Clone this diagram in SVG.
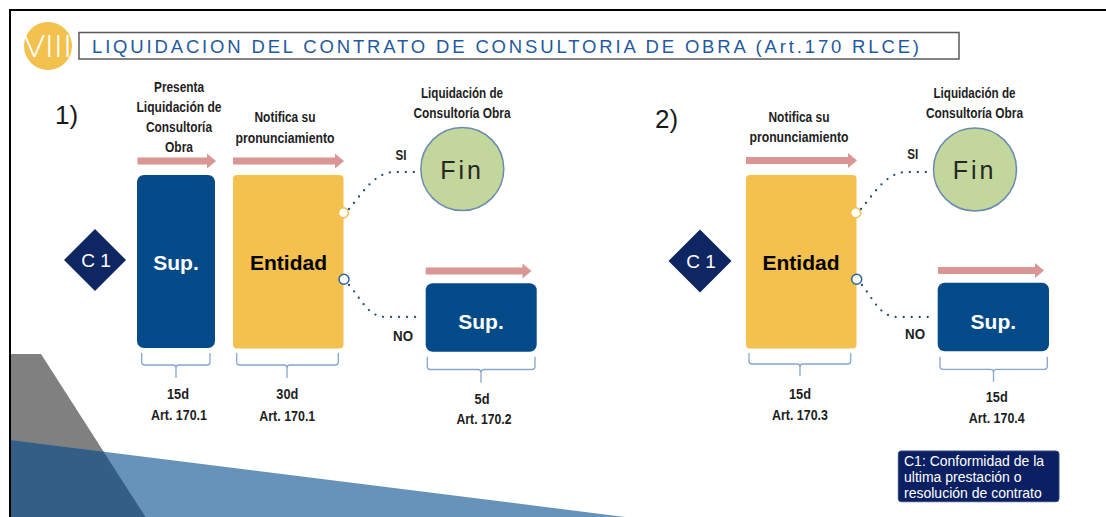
<svg xmlns="http://www.w3.org/2000/svg" width="1106" height="517" viewBox="0 0 1106 517">
<style>
.lbl{font-family:"Liberation Sans",Arial,sans-serif;font-weight:bold;font-size:14px;fill:#1e1e1e;text-anchor:middle}
.big{font-family:"Liberation Sans",Arial,sans-serif;font-weight:bold;font-size:21px;text-anchor:middle}
.sup{fill:#034A89}
.ent{fill:#F4C04E}
.dia{fill:#0E2762}
.fin{fill:#C3D69B;stroke:#6A8CAF;stroke-width:1.5}
.arrow{fill:#DA9694}
.dots{fill:none;stroke:#1F4E79;stroke-width:2.3;stroke-linecap:round;stroke-dasharray:0 8}
.brace{fill:none;stroke:#86A6D0;stroke-width:1.3}
.num{font-family:"Liberation Sans",Arial,sans-serif;font-size:26px;fill:#1a1a1a}
.finTxt{font-family:"Liberation Sans",Arial,sans-serif;font-size:25px;fill:#262626;letter-spacing:3px;text-anchor:middle}
.c1{font-family:"Liberation Sans",Arial,sans-serif;font-size:19px;fill:#ffffff;text-anchor:middle}
.leg{font-family:"Liberation Sans",Arial,sans-serif;font-size:14px;fill:#ffffff}
</style>

<g id="background">
  <rect x="0" y="0" width="1106" height="517" fill="#ffffff"/>
  <polygon points="10,354 41,354 145.5,517 10,517" fill="#808080"/>
  <polygon points="10,440 625,517 10,517" fill="#6793BB"/>
  <polygon points="10,440 103.6,451.7 145.5,517 10,517" fill="#345E85"/>
  <path d="M10,517 L10,10 L1106,10" fill="none" stroke="#000000" stroke-width="2"/>
</g>

<g id="title">
  <circle cx="48" cy="46" r="24" fill="#F2C14E"/>
  <text x="48" y="57" font-family="'Open Sans','Liberation Sans',sans-serif" font-weight="300" font-size="31" fill="#ffffff" text-anchor="middle" textLength="48" lengthAdjust="spacingAndGlyphs">VIII</text>
  <rect x="79" y="32.5" width="880" height="26.5" fill="#ffffff" stroke="#5a5a5a" stroke-width="1.5"/>
  <text x="92" y="53" font-family="'Liberation Sans',Arial,sans-serif" font-size="18.5" fill="#1F5A9E" textLength="827" lengthAdjust="spacing">LIQUIDACION DEL CONTRATO DE CONSULTORIA DE OBRA (Art.170 RLCE)</text>
</g>

<g id="flow-arrows">
  <path class="arrow" d="M137.5,157.5 H207 V153.5 L216,161 L207,168.5 V164.5 H137.5 Z"/>
  <path class="arrow" d="M233,157.5 H335 V153.5 L344,161 L335,168.5 V164.5 H233 Z"/>
  <path class="arrow" d="M425.7,267.5 H522.5 V263.5 L531.5,271 L522.5,278.5 V274.5 H425.7 Z"/>
  <path class="arrow" d="M746,157 H848 V153 L857,160.5 L848,168 V164 H746 Z"/>
  <path class="arrow" d="M938,267 H1035 V263 L1044,270.5 L1035,278 V274 H938 Z"/>
</g>

<g id="connectors">
  <path class="dots" d="M349,209 C362,194 374,172 395,172 L420,172"/>
  <path class="dots" d="M349,285 C362,300 368,317 386,317 L420,317"/>
  <path class="dots" d="M861,209 C874,194 886,172 907,172 L932,172"/>
  <path class="dots" d="M862,285 C874,300 880,317 898,317 L932,317"/>
</g>

<g id="section1-labels">
  <text class="num" x="55" y="124">1)</text>
  <text class="lbl" x="179" y="91.5" textLength="50" lengthAdjust="spacingAndGlyphs">Presenta</text>
  <text class="lbl" x="179" y="111.5" textLength="85" lengthAdjust="spacingAndGlyphs">Liquidación de</text>
  <text class="lbl" x="179" y="132" textLength="66" lengthAdjust="spacingAndGlyphs">Consultoría</text>
  <text class="lbl" x="179" y="152" textLength="28" lengthAdjust="spacingAndGlyphs">Obra</text>
  <text class="lbl" x="285" y="122" textLength="61" lengthAdjust="spacingAndGlyphs">Notifica su</text>
  <text class="lbl" x="285" y="142.5" textLength="99" lengthAdjust="spacingAndGlyphs">pronunciamiento</text>
  <text class="lbl" x="462" y="98" textLength="82" lengthAdjust="spacingAndGlyphs">Liquidación de</text>
  <text class="lbl" x="462" y="117.5" textLength="97" lengthAdjust="spacingAndGlyphs">Consultoría Obra</text>
  <text class="lbl" x="401" y="159.5" textLength="11" lengthAdjust="spacingAndGlyphs">SI</text>
  <text class="lbl" x="403" y="340.5" textLength="20" lengthAdjust="spacingAndGlyphs">NO</text>
</g>

<g id="c1-a">
  <polygon class="dia" points="95,229 126,260 95,291 64,260"/>
  <text class="c1" x="96" y="267">C 1</text>
</g>

<g id="sup-a">
  <rect class="sup" x="137" y="175" width="78" height="173" rx="7"/>
  <text class="big" x="176" y="270" fill="#ffffff">Sup.</text>
</g>

<g id="entidad-a">
  <rect class="ent" x="233" y="175" width="110.5" height="173.5" rx="4"/>
  <text class="big" x="288.5" y="270" fill="#000000">Entidad</text>
  <circle cx="343.5" cy="212.7" r="5" fill="#ffffff" stroke="#F4C04E" stroke-width="1.5"/>
  <circle cx="344" cy="279.3" r="5" fill="#ffffff" stroke="#2E6399" stroke-width="1.5"/>
</g>

<g id="fin-a">
  <circle class="fin" cx="462.3" cy="169" r="41.5"/>
  <text class="finTxt" x="462" y="179">Fin</text>
</g>

<g id="sup-b">
  <rect class="sup" x="425.7" y="283.3" width="111" height="68.4" rx="7"/>
  <text class="big" x="481" y="329" fill="#ffffff">Sup.</text>
</g>

<g id="braces">
  <path class="brace" d="M141.7,353 V362 Q141.7,365 144.7,365 H173 Q176,365 176,368 V378 M176,368 Q176,365 179,365 H207 Q210,365 210,362 V353"/>
  <path class="brace" d="M236.7,353 V362 Q236.7,365 239.7,365 H284 Q287,365 287,368 V378 M287,368 Q287,365 290,365 H335.3 Q338.3,365 338.3,362 V353"/>
  <path class="brace" d="M427.3,356.7 V366.5 Q427.3,369.5 430.3,369.5 H478 Q481,369.5 481,372.5 V382.7 M481,372.5 Q481,369.5 484,369.5 H532 Q535,369.5 535,366.5 V356.7"/>
  <path class="brace" d="M749,353 V361 Q749,364 752,364 H797 Q800,364 800,367 V376 M800,367 Q800,364 803,364 H847.7 Q850.7,364 850.7,361 V353"/>
  <path class="brace" d="M940,356.7 V366.3 Q940,369.3 943,369.3 H990.5 Q993.5,369.3 993.5,372.3 V381.7 M993.5,372.3 Q993.5,369.3 996.5,369.3 H1044.3 Q1047.3,369.3 1047.3,366.3 V356.7"/>
</g>

<g id="durations">
  <text class="lbl" x="178" y="399" textLength="22" lengthAdjust="spacingAndGlyphs">15d</text>
  <text class="lbl" x="179" y="420" textLength="56" lengthAdjust="spacingAndGlyphs">Art. 170.1</text>
  <text class="lbl" x="287.3" y="399" textLength="22" lengthAdjust="spacingAndGlyphs">30d</text>
  <text class="lbl" x="287.3" y="421" textLength="56" lengthAdjust="spacingAndGlyphs">Art. 170.1</text>
  <text class="lbl" x="482" y="404" textLength="15" lengthAdjust="spacingAndGlyphs">5d</text>
  <text class="lbl" x="484" y="424" textLength="55" lengthAdjust="spacingAndGlyphs">Art. 170.2</text>
  <text class="lbl" x="800" y="399" textLength="22" lengthAdjust="spacingAndGlyphs">15d</text>
  <text class="lbl" x="800" y="420" textLength="56" lengthAdjust="spacingAndGlyphs">Art. 170.3</text>
  <text class="lbl" x="996.7" y="402" textLength="22" lengthAdjust="spacingAndGlyphs">15d</text>
  <text class="lbl" x="996.7" y="423" textLength="56" lengthAdjust="spacingAndGlyphs">Art. 170.4</text>
</g>

<g id="section2-labels">
  <text class="num" x="655" y="128">2)</text>
  <text class="lbl" x="799" y="122" textLength="61" lengthAdjust="spacingAndGlyphs">Notifica su</text>
  <text class="lbl" x="799" y="142" textLength="99" lengthAdjust="spacingAndGlyphs">pronunciamiento</text>
  <text class="lbl" x="974.5" y="98" textLength="82" lengthAdjust="spacingAndGlyphs">Liquidación de</text>
  <text class="lbl" x="974.5" y="117.5" textLength="97" lengthAdjust="spacingAndGlyphs">Consultoría Obra</text>
  <text class="lbl" x="912.7" y="158.5" textLength="11" lengthAdjust="spacingAndGlyphs">SI</text>
  <text class="lbl" x="915" y="339" textLength="20" lengthAdjust="spacingAndGlyphs">NO</text>
</g>

<g id="c1-b">
  <polygon class="dia" points="700,229.5 731.5,261 700,292.5 668.5,261"/>
  <text class="c1" x="701" y="268">C 1</text>
</g>

<g id="entidad-b">
  <rect class="ent" x="746" y="175" width="110.5" height="173.5" rx="4"/>
  <text class="big" x="801" y="269.5" fill="#000000">Entidad</text>
  <circle cx="855.7" cy="212.7" r="5" fill="#ffffff" stroke="#F4C04E" stroke-width="1.5"/>
  <circle cx="856.7" cy="279.3" r="5" fill="#ffffff" stroke="#2E6399" stroke-width="1.5"/>
</g>

<g id="fin-b">
  <circle class="fin" cx="975" cy="169.5" r="41.5"/>
  <text class="finTxt" x="974.5" y="179.3">Fin</text>
</g>

<g id="sup-c">
  <rect class="sup" x="937.7" y="282.7" width="111.3" height="68.5" rx="7"/>
  <text class="big" x="993.3" y="329" fill="#ffffff">Sup.</text>
</g>

<g id="legend">
  <rect x="898.3" y="451" width="160.7" height="50.7" rx="3" fill="#0B1F63" stroke="#34487f" stroke-width="1"/>
  <text class="leg" x="904" y="466">C1: Conformidad de la</text>
  <text class="leg" x="904" y="482">ultima prestación o</text>
  <text class="leg" x="904" y="497.5">resolución de contrato</text>
</g>
</svg>
